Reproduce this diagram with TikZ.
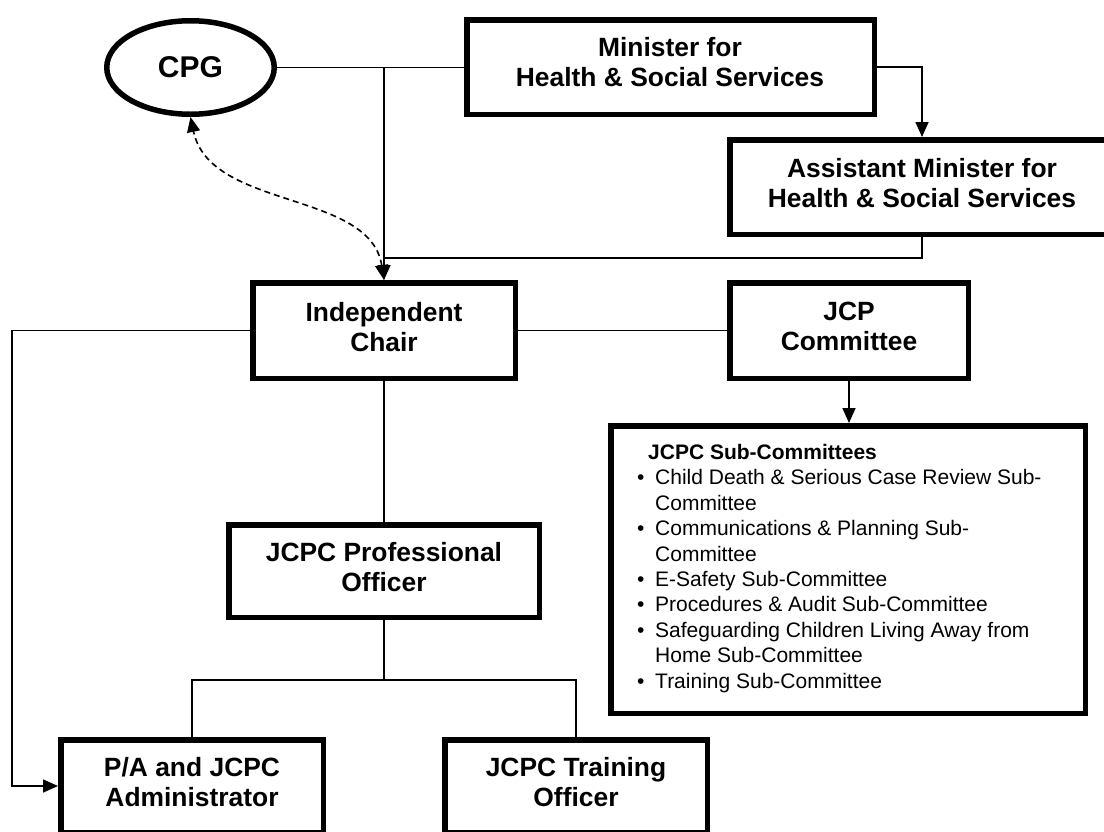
\documentclass[tikz,border=0pt]{standalone}
\usepackage{fontspec}
\setmainfont{Liberation Sans}
\usetikzlibrary{arrows.meta,shapes.geometric}
\newcommand{\subbullet}{\makebox[19pt][l]{\hspace{1pt}\textbullet}}
\begin{document}
\begin{tikzpicture}[x=1pt,y=-1pt,
  box/.style={draw,line width=5.5pt,rectangle,inner sep=0pt},
  boxtext/.style={align=center,font=\fontsize{26.4}{30}\selectfont\bfseries,inner sep=0pt},
  conn/.style={line width=1.6pt},
  arr/.style={conn,-{Triangle[length=15pt,width=13pt]}},
  dasharr/.style={conn,dash pattern=on 6pt off 4pt,{Triangle[length=15pt,width=13pt]}-{Triangle[length=15pt,width=13pt]}}]
\useasboundingbox (0,0) rectangle (1104,831);
\clip (0,0) rectangle (1104,831);

% boxes
\node[draw,ellipse,line width=5.5pt,minimum width=167.5pt,minimum height=93.5pt,inner sep=0pt,font=\fontsize{30}{36}\selectfont\bfseries] (cpg) at (190.5,67.5) {CPG};
\node[box,minimum width=407.5pt,minimum height=94.5pt] (min) at (670.5,67) {};
\node[box,minimum width=384.5pt,minimum height=94.5pt] (ast) at (922,187) {};
\node[box,minimum width=262.5pt,minimum height=95.5pt] (chair) at (384,330.5) {};
\node[box,minimum width=238.5pt,minimum height=95.5pt] (jcp) at (849,330.5) {};
\node[box,minimum width=474.5pt,minimum height=287.5pt] (sub) at (848,569.5) {};
\node[box,minimum width=310.5pt,minimum height=92.5pt] (prof) at (384,571) {};
\node[box,minimum width=262.5pt,minimum height=92.5pt] (pa) at (192,786) {};
\node[box,minimum width=262.5pt,minimum height=92.5pt] (tr) at (576,786) {};

% texts
\node[boxtext] (minT) at (670,62) {Minister for\\Health \& Social Services};
\node[boxtext] (astT) at (922,183) {Assistant Minister for\\Health \& Social Services};
\node[boxtext] (chairT) at (384,327) {Independent\\Chair};
\node[boxtext] (jcpT) at (849,326) {JCP\\Committee};
\node[boxtext] (profT) at (384,567) {JCPC Professional\\Officer};
\node[boxtext] (paT) at (192,782) {P/A and JCPC\\Administrator};
\node[boxtext] (trT) at (576,782) {JCPC Training\\Officer};
\node[anchor=north west,inner sep=0pt,align=left,font=\fontsize{21}{25.4}\selectfont] (subT) at (636,444)
 {\hspace*{12pt}\textbf{JCPC Sub-Committees}\\
  \subbullet Child Death \& Serious Case Review Sub-\\
  \hspace*{19pt}Committee\\
  \subbullet Communications \& Planning Sub-\\
  \hspace*{19pt}Committee\\
  \subbullet E-Safety Sub-Committee\\
  \subbullet Procedures \& Audit Sub-Committee\\
  \subbullet Safeguarding Children Living Away from\\
  \hspace*{19pt}Home Sub-Committee\\
  \subbullet Training Sub-Committee};

% connectors
\coordinate (j1) at (chair.north |- cpg.east);
\coordinate (j2) at (384,258);
\draw[conn] (cpg.east) -- (cpg.east -| min.west);
\draw[arr] (j1) -- (chair.north);
\draw[arr] (min.east) -| (ast.north);
\draw[conn] (ast.south) |- (j2);
\draw[dasharr] (chair.north) .. controls (370,190) and (210,210) .. (cpg.south);
\draw[arr] (chair.west) -- ++(-238,0) |- (pa.west);
\draw[conn] (chair.east) -- (jcp.west);
\draw[arr] (jcp.south) -- (jcp.south |- sub.north);
\draw[conn] (chair.south) -- (prof.north);
\draw[conn] (prof.south) -- ++(0,60);
\draw[conn] (pa.north) -- ++(0,-57) -| (tr.north);
\end{tikzpicture}
\end{document}
